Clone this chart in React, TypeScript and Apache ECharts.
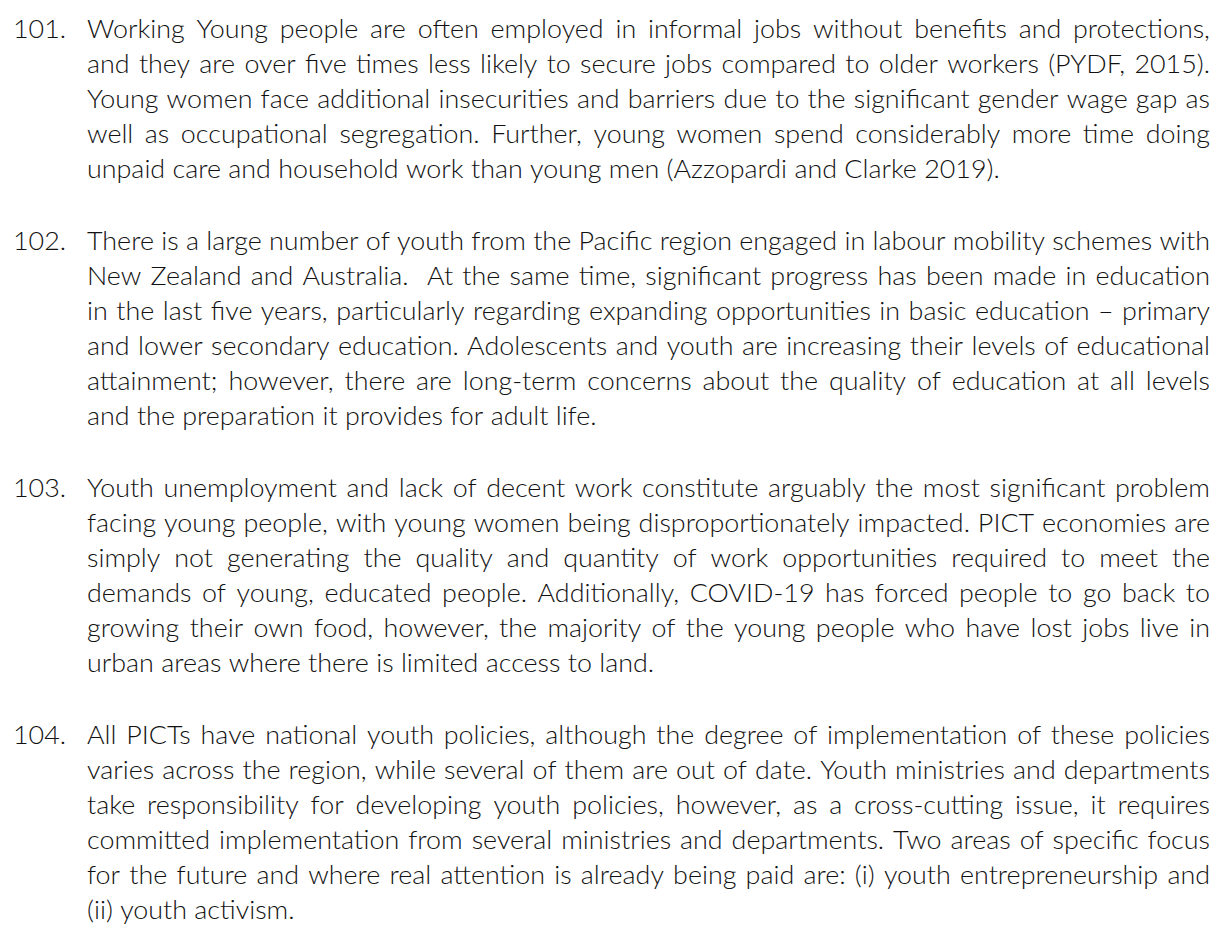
import React, { useEffect, useRef } from "react";
import * as echarts from "echarts";

// Paragraph numbers and their lines (as broken in the reference)
const paraNumbers = ["101.", "102.", "103.", "104."];

const para101 = [
  "Working Young people are often employed in informal jobs without benefits and protections,",
  "and they are over five times less likely to secure jobs compared to older workers (PYDF, 2015).",
  "Young women face additional insecurities and barriers due to the significant gender wage gap as",
  "well as occupational segregation. Further, young women spend considerably more time doing",
  "unpaid care and household work than young men (Azzopardi and Clarke 2019).",
];

const para102 = [
  "There is a large number of youth from the Pacific region engaged in labour mobility schemes with",
  "New Zealand and Australia.  At the same time, significant progress has been made in education",
  "in the last five years, particularly regarding expanding opportunities in basic education \u2013 primary",
  "and lower secondary education. Adolescents and youth are increasing their levels of educational",
  "attainment; however, there are long-term concerns about the quality of education at all levels",
  "and the preparation it provides for adult life.",
];

const para103 = [
  "Youth unemployment and lack of decent work constitute arguably the most significant problem",
  "facing young people, with young women being disproportionately impacted. PICT economies are",
  "simply not generating the quality and quantity of work opportunities required to meet the",
  "demands of young, educated people. Additionally, COVID-19 has forced people to go back to",
  "growing their own food, however, the majority of the young people who have lost jobs live in",
  "urban areas where there is limited access to land.",
];

const para104 = [
  "All PICTs have national youth policies, although the degree of implementation of these policies",
  "varies across the region, while several of them are out of date. Youth ministries and departments",
  "take responsibility for developing youth policies, however, as a cross-cutting issue, it requires",
  "committed implementation from several ministries and departments. Two areas of specific focus",
  "for the future and where real attention is already being paid are: (i) youth entrepreneurship and",
  "(ii) youth activism.",
];

const paragraphs = [para101, para102, para103, para104];

const FONT_FAMILY = "Lato";
const FONT_SIZE = 26;
const FONT_WEIGHT = 300;
const TEXT_COLOR = "#111111";
const NUM_X = 13;
const BODY_LEFT = 87;
const BODY_RIGHT = 1210;
const FIRST_BASELINE = 38;
const LINE_STEP = 35;
const PARA_GAP = 72;

function buildElements() {
  const canvas = document.createElement("canvas");
  const ctx = canvas.getContext("2d")!;
  const font = `${FONT_WEIGHT} ${FONT_SIZE}px ${FONT_FAMILY}`;
  ctx.font = font;
  const mw = (s: string) => ctx.measureText(s).width;
  const spaceW = mw(" ");
  const W = BODY_RIGHT - BODY_LEFT;

  // horizontal scale so the longest justified line has natural spacing
  let maxNat = 0;
  paragraphs.forEach((p) =>
    p.forEach((line, i) => {
      if (i === p.length - 1) return;
      const words = line.split(" ");
      const nat = words.reduce((a, w) => a + mw(w), 0) + (words.length - 1) * spaceW;
      maxNat = Math.max(maxNat, nat);
    })
  );
  const sx = Math.min(1.15, W / maxNat);

  const els: any[] = [];
  const baseStyle = {
    font,
    fill: TEXT_COLOR,
    align: "left",
    verticalAlign: "middle",
    textAlign: "left",
    textVerticalAlign: "middle",
  };
  const dy = -0.36 * FONT_SIZE;
  let baseline = FIRST_BASELINE;
  paragraphs.forEach((p, pi) => {
    if (pi > 0) baseline += PARA_GAP;
    els.push({
      type: "text",
      x: NUM_X,
      y: baseline + dy,
      scaleX: sx,
      style: { ...baseStyle, text: paraNumbers[pi], x: 0, y: 0 },
    });
    p.forEach((line, li) => {
      if (li > 0) baseline += LINE_STEP;
      const words = line.split(" ");
      const widths = words.map((w) => mw(w) * sx);
      const total = widths.reduce((a, b) => a + b, 0);
      const gaps = words.length - 1;
      const isLast = li === p.length - 1;
      const gap = isLast || gaps === 0 ? spaceW * sx : (W - total) / gaps;
      let x = BODY_LEFT;
      words.forEach((w, wi) => {
        if (w.length > 0) {
          els.push({
            type: "text",
            x,
            y: baseline + dy,
            scaleX: sx,
            style: { ...baseStyle, text: w, x: 0, y: 0 },
          });
        }
        x += widths[wi] + gap;
      });
    });
  });
  return els;
}

export default function App() {
  const ref = useRef<HTMLDivElement>(null);
  useEffect(() => {
    if (!ref.current) return;
    const chart = echarts.init(ref.current, undefined, { renderer: "svg" });
    chart.setOption({
      animation: false,
      backgroundColor: "#ffffff",
      graphic: { elements: buildElements() },
    });
    return () => chart.dispose();
  }, []);
  return (
    <div
      ref={ref}
      style={{ position: "fixed", left: 0, top: 0, width: 1218, height: 926, background: "#fff" }}
    />
  );
}
